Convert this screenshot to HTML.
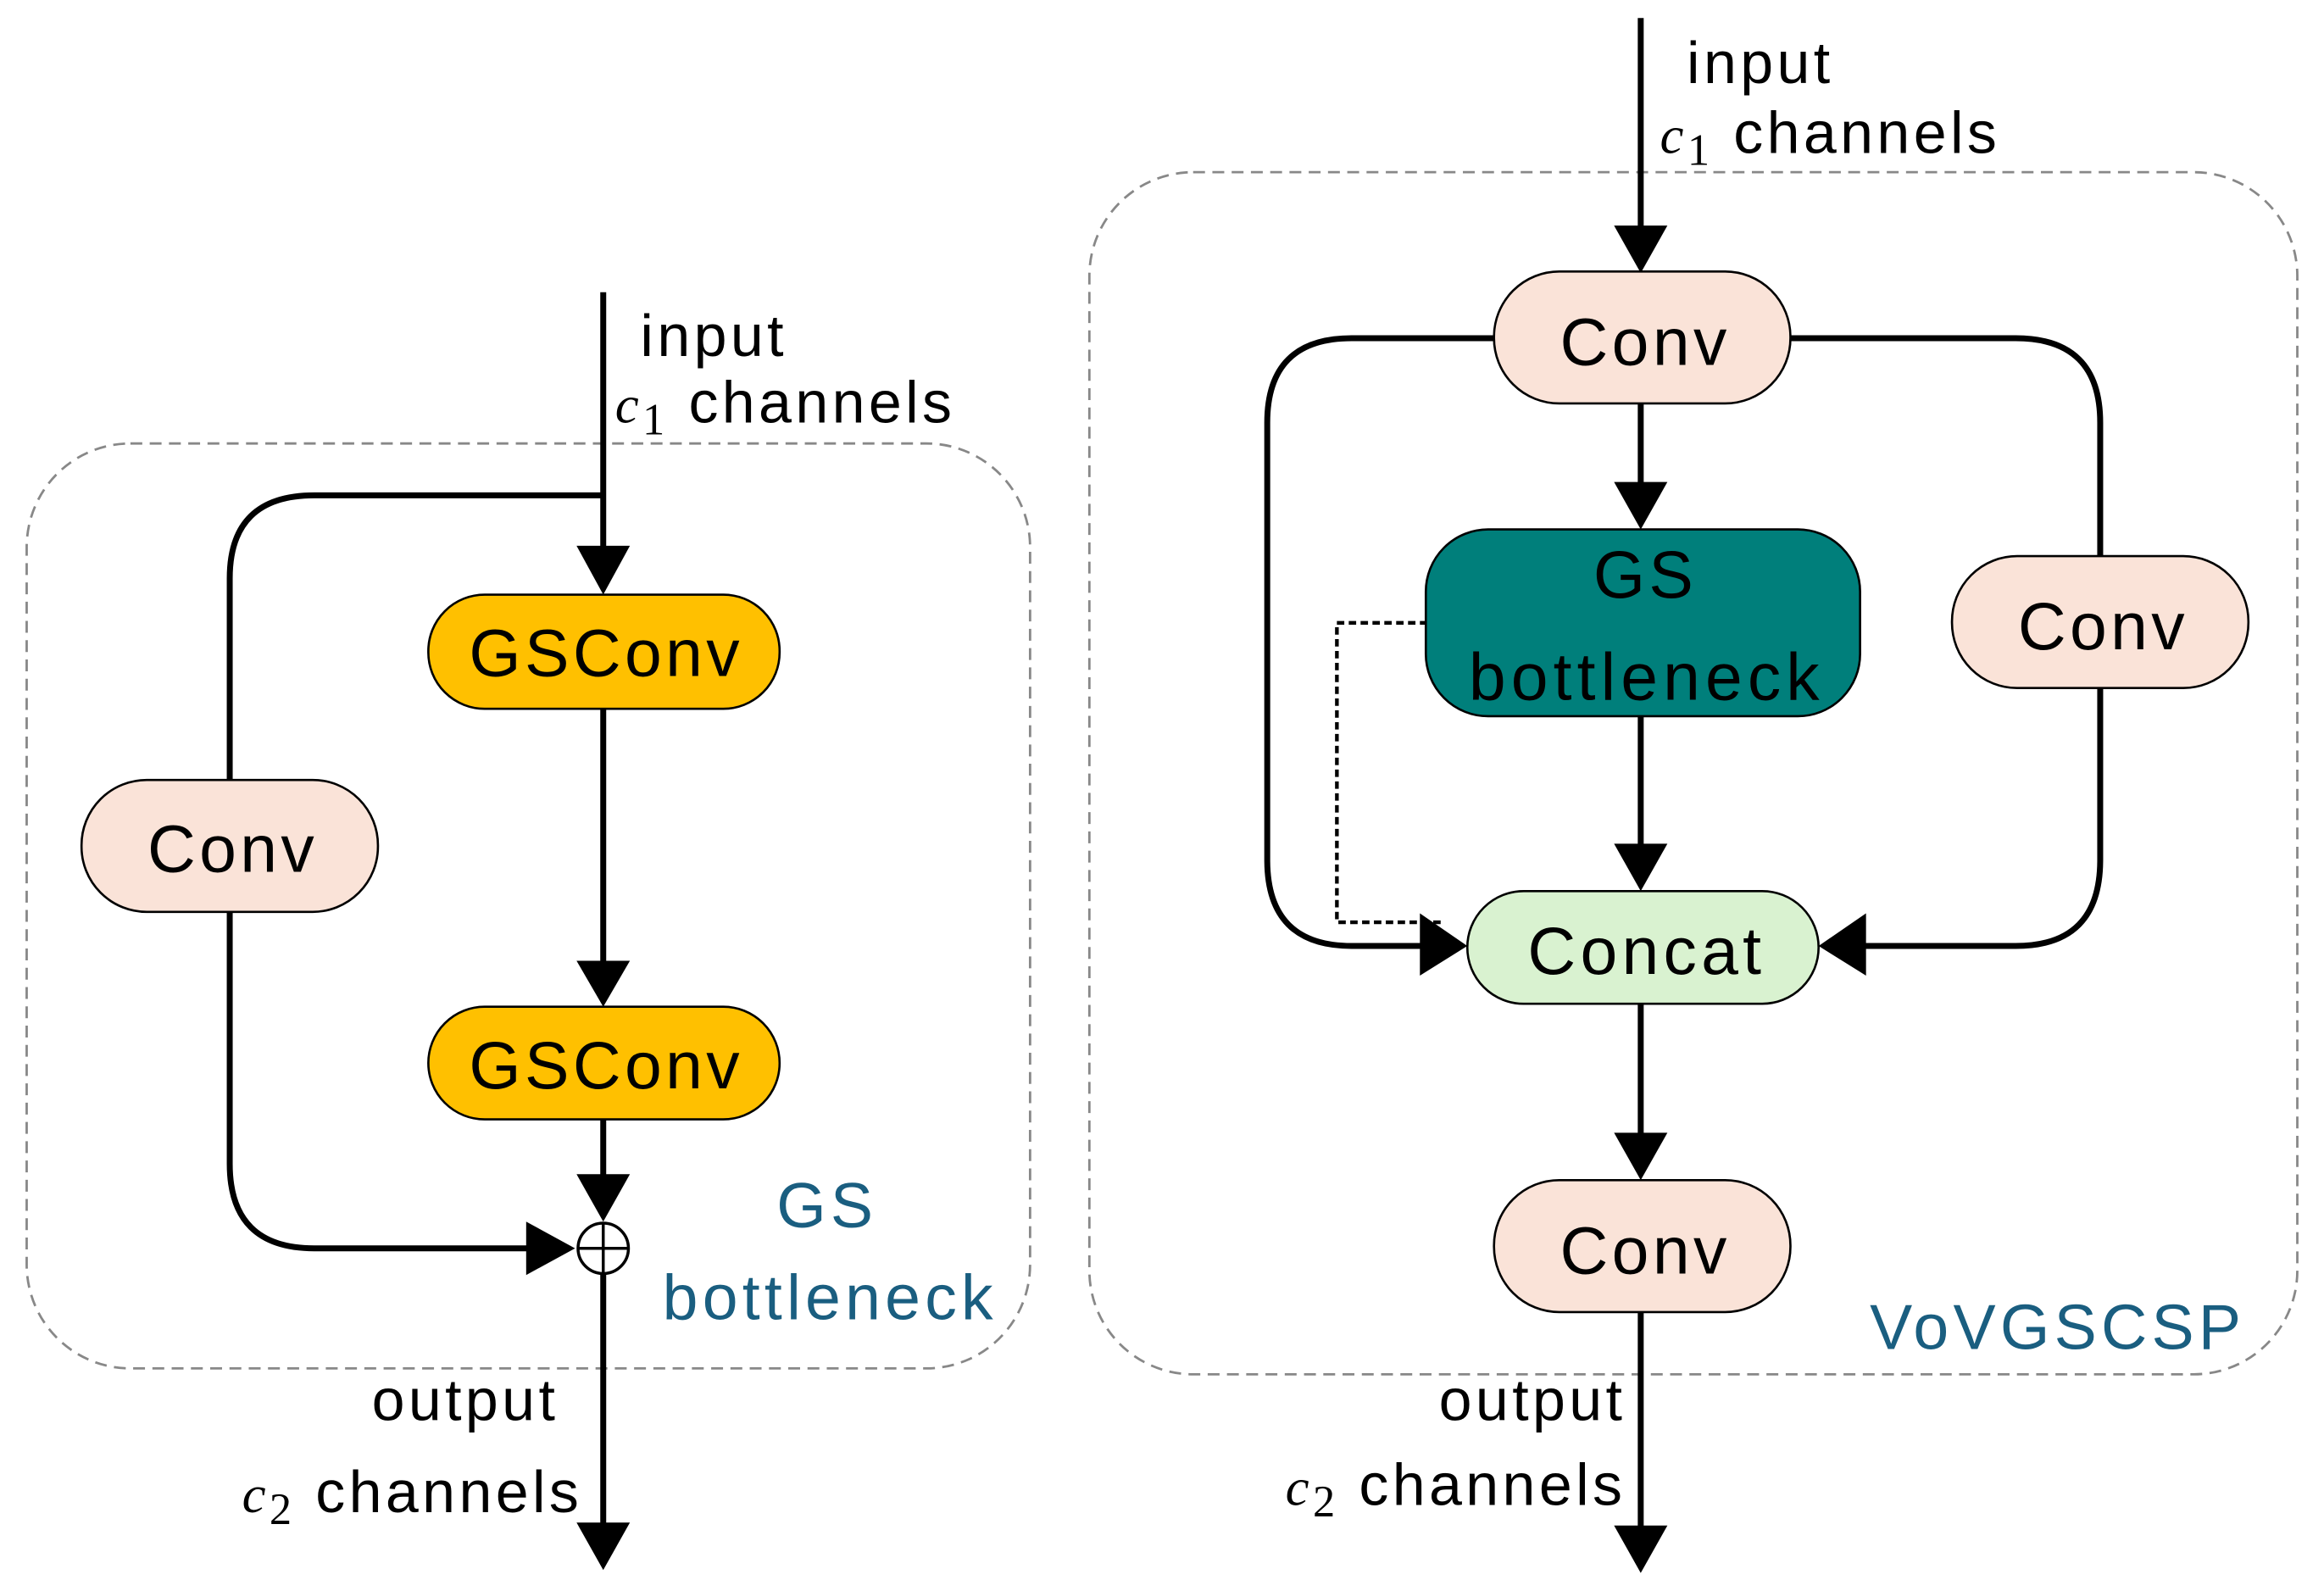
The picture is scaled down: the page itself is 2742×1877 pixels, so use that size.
<!DOCTYPE html>
<html><head><meta charset="utf-8"><style>html,body{margin:0;padding:0;background:#fff}svg{display:block}</style></head>
<body>
<svg width="2742" height="1877" viewBox="0 0 1568 1073" xmlns="http://www.w3.org/2000/svg" font-family="Liberation Sans, sans-serif">
<style>.l{fill:none;stroke:#000;stroke-width:4}.t{font-size:40px;fill:#000;letter-spacing:2.5px}.b{font-size:45px;fill:#000;text-anchor:middle;letter-spacing:2.5px}.c{font-size:43px;fill:#1a5e80;letter-spacing:3px}</style>
<!-- LEFT -->
<rect x="18" y="299" width="677" height="624" rx="70" fill="none" stroke="#888" stroke-width="1.6" stroke-dasharray="8,5"/>
<line x1="407" y1="197" x2="407" y2="370" class="l"/>
<path d="M389,368 L425,368 L407,401 z"/>
<path d="M407,334 L212,334 Q155,334 155,390 L155,526" class="l"/>
<path d="M155,615 L155,785 Q155,842 212,842 L360,842" class="l"/>
<path d="M355,824 L388,842 L355,860 z"/>
<rect x="289" y="401" width="237" height="77" rx="38" fill="#ffc000" stroke="#000" stroke-width="1.5"/>
<text x="409" y="456" class="b">GSConv</text>
<line x1="407" y1="478" x2="407" y2="650" class="l"/>
<path d="M389,648 L425,648 L407,679 z"/>
<rect x="289" y="679" width="237" height="76" rx="38" fill="#ffc000" stroke="#000" stroke-width="1.5"/>
<text x="409" y="734" class="b">GSConv</text>
<rect x="55" y="526" width="200" height="89" rx="44" fill="#fae3d8" stroke="#000" stroke-width="1.5"/>
<text x="157" y="588" class="b">Conv</text>
<line x1="407" y1="755" x2="407" y2="795" class="l"/>
<path d="M389,792 L425,792 L407,824 z"/>
<circle cx="407" cy="842" r="17" fill="#fff" stroke="#000" stroke-width="2"/>
<line x1="390" y1="842" x2="424" y2="842" stroke="#000" stroke-width="2"/>
<line x1="407" y1="825" x2="407" y2="859" stroke="#000" stroke-width="2"/>
<line x1="407" y1="859" x2="407" y2="1030" class="l"/>
<path d="M389,1027 L425,1027 L407,1059 z"/>
<text x="432" y="240" class="t">input</text>
<text x="415" y="285" class="t"><tspan font-family="Liberation Serif" font-style="italic" font-size="36">c</tspan><tspan font-family="Liberation Serif" font-size="30" dy="8">1</tspan><tspan dy="-8"> channels</tspan></text>
<text x="558" y="828" class="c" text-anchor="middle">GS</text>
<text x="560" y="890" class="c" text-anchor="middle">bottleneck</text>
<text x="377" y="958" class="t" text-anchor="end">output</text>
<text x="393" y="1020" class="t" text-anchor="end"><tspan font-family="Liberation Serif" font-style="italic" font-size="36">c</tspan><tspan font-family="Liberation Serif" font-size="30" dy="8">2</tspan><tspan dy="-8">  channels</tspan></text>
<!-- RIGHT -->
<rect x="735" y="116" width="815" height="811" rx="70" fill="none" stroke="#888" stroke-width="1.6" stroke-dasharray="8,5"/>
<line x1="1107" y1="12" x2="1107" y2="155" class="l"/>
<path d="M1089,152 L1125,152 L1107,184 z"/>
<path d="M1010,228 L912,228 Q855,228 855,285 L855,580 Q855,638 912,638 L960,638" class="l"/>
<path d="M958,616 L990,638 L958,658 z"/>
<path d="M1206,228 L1360,228 Q1417,228 1417,285 L1417,376" class="l"/>
<path d="M1417,463 L1417,580 Q1417,638 1360,638 L1255,638" class="l"/>
<path d="M1259,616 L1227,638 L1259,658 z"/>
<path d="M963,420 L902,420 L902,622 L975,622" fill="none" stroke="#000" stroke-width="2.5" stroke-dasharray="5,3"/>
<rect x="1008" y="183" width="200" height="89" rx="44" fill="#fae3d8" stroke="#000" stroke-width="1.5"/>
<text x="1110" y="246" class="b">Conv</text>
<line x1="1107" y1="272" x2="1107" y2="328" class="l"/>
<path d="M1089,325 L1125,325 L1107,357 z"/>
<rect x="962" y="357" width="293" height="126" rx="42" fill="#007f7b" stroke="#000" stroke-width="1.5"/>
<text x="1110" y="403" class="b">GS</text>
<text x="1111" y="472" class="b" style="letter-spacing:3.5px">bottleneck</text>
<line x1="1107" y1="483" x2="1107" y2="572" class="l"/>
<path d="M1089,569 L1125,569 L1107,601 z"/>
<rect x="990" y="601" width="237" height="76" rx="38" fill="#d9f2d0" stroke="#000" stroke-width="1.5"/>
<text x="1111" y="657" class="b" style="letter-spacing:3px">Concat</text>
<line x1="1107" y1="677" x2="1107" y2="767" class="l"/>
<path d="M1089,764 L1125,764 L1107,796 z"/>
<rect x="1008" y="796" width="200" height="89" rx="44" fill="#fae3d8" stroke="#000" stroke-width="1.5"/>
<text x="1110" y="859" class="b">Conv</text>
<rect x="1317" y="375" width="200" height="89" rx="44" fill="#fae3d8" stroke="#000" stroke-width="1.5"/>
<text x="1419" y="438" class="b">Conv</text>
<line x1="1107" y1="885" x2="1107" y2="1032" class="l"/>
<path d="M1089,1029 L1125,1029 L1107,1061 z"/>
<text x="1138" y="56" class="t">input</text>
<text x="1120" y="103" class="t"><tspan font-family="Liberation Serif" font-style="italic" font-size="36">c</tspan><tspan font-family="Liberation Serif" font-size="30" dy="8">1</tspan><tspan dy="-8"> channels</tspan></text>
<text x="1515" y="910" class="c" text-anchor="end">VoVGSCSP</text>
<text x="1097" y="958" class="t" text-anchor="end">output</text>
<text x="1097" y="1015" class="t" text-anchor="end"><tspan font-family="Liberation Serif" font-style="italic" font-size="36">c</tspan><tspan font-family="Liberation Serif" font-size="30" dy="8">2</tspan><tspan dy="-8">  channels</tspan></text>
</svg>
</body></html>
